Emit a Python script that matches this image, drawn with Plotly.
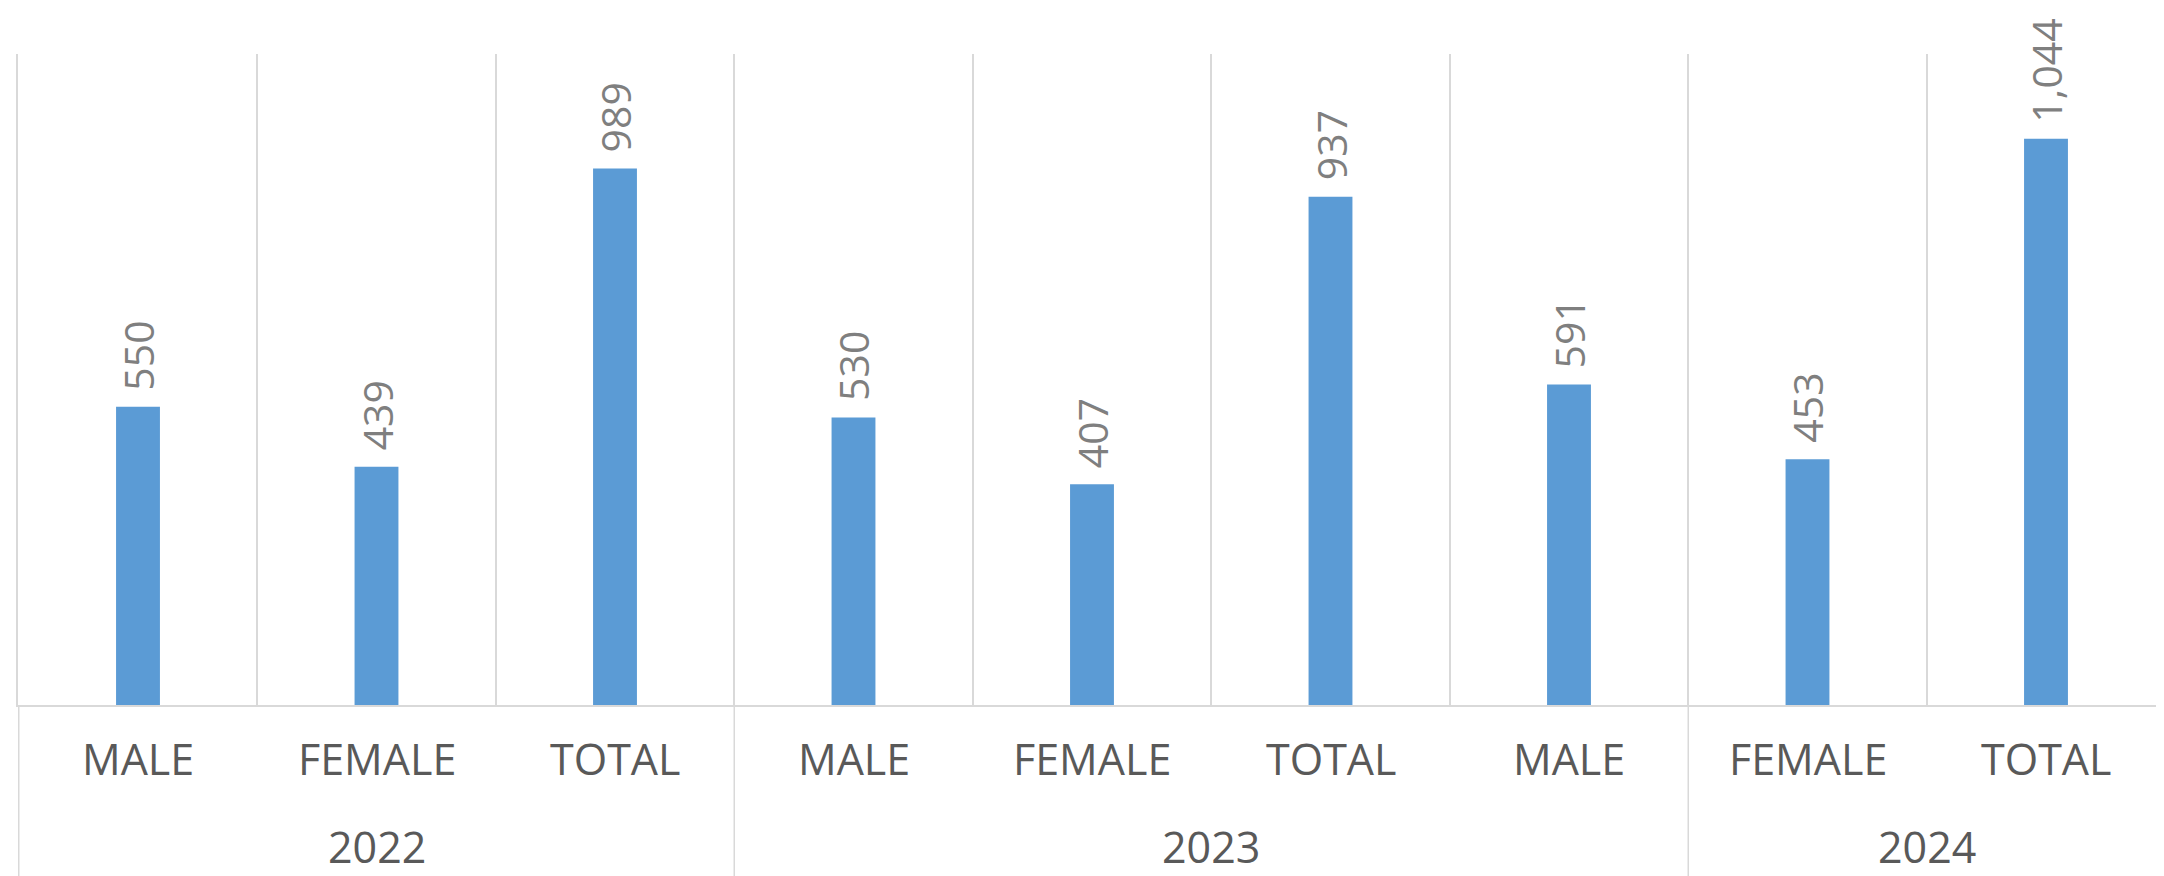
import plotly.graph_objects as go

years = ["2022", "2022", "2022", "2023", "2023", "2023", "2023", "2024", "2024"]
groups = ["MALE", "FEMALE", "TOTAL", "MALE", "FEMALE", "TOTAL", "MALE", "FEMALE", "TOTAL"]
values = [550, 439, 989, 530, 407, 937, 591, 453, 1044]

BAR_COLOR = "#5b9bd5"
GRID = "#d9d9d9"
LABEL_GRAY = "#7f7f7f"
TICK_GRAY = "#595959"
FONT = "Open Sans"

W, H = 2164, 876
M_L, M_R, M_T, M_B = 10, 4, 46, 179
plot_h = H - M_T - M_B

keys = [f"{y}|{g}|{i}" for i, (y, g) in enumerate(zip(years, groups))]

fig = go.Figure()
fig.add_trace(go.Bar(
    x=keys,
    y=values,
    marker=dict(color=BAR_COLOR, line=dict(width=0)),
    hoverinfo="skip",
))

annotations = []
# value labels
for k, v in zip(keys, values):
    annotations.append(dict(
        x=k, y=v, xref="x", yref="y",
        text=f"{v:,}", textangle=-90, showarrow=False,
        xanchor="center", yanchor="bottom", yshift=14,
        font=dict(family=FONT, size=41, color=LABEL_GRAY),
    ))
# category labels
for k, g in zip(keys, groups):
    annotations.append(dict(
        x=k, y=0, xref="x", yref="paper",
        text=g, showarrow=False,
        xanchor="center", yanchor="middle", yshift=-53,
        font=dict(family=FONT, size=43, color=TICK_GRAY),
    ))

# year groups
spans = []
start = 0
for i in range(1, len(years) + 1):
    if i == len(years) or years[i] != years[start]:
        spans.append((years[start], start, i - 1))
        start = i

shapes = []
for yr, a, b in spans:
    annotations.append(dict(
        x=(a + b) / 2, y=0, xref="x", yref="paper",
        text=yr, showarrow=False,
        xanchor="center", yanchor="middle", yshift=-141,
        font=dict(family=FONT, size=43, color=TICK_GRAY),
    ))
bounds = sorted({a - 0.5 for _, a, _ in spans} | {b + 0.5 for _, _, b in spans})
for xb in bounds:
    shapes.append(dict(
        type="line", xref="x", yref="paper",
        x0=xb, x1=xb, y0=0, y1=-M_B / plot_h,
        line=dict(color=GRID, width=1.5),
    ))

fig.update_layout(
    width=W, height=H,
    margin=dict(l=M_L, r=M_R, t=M_T, b=M_B),
    paper_bgcolor="white", plot_bgcolor="white",
    showlegend=False,
    bargap=0.816,
    annotations=annotations,
    shapes=shapes,
    xaxis=dict(
        type="category",
        tickson="boundaries",
        showgrid=True, gridcolor=GRID, gridwidth=1.5,
        showline=True, linecolor=GRID, linewidth=2,
        ticks="", showticklabels=False,
    ),
    yaxis=dict(
        range=[0, 1200],
        showgrid=False, zeroline=False,
        showticklabels=False, ticks="",
        showline=True, mirror=True, linecolor=GRID, linewidth=1.5,
    ),
)

fig.write_html("out.html")
